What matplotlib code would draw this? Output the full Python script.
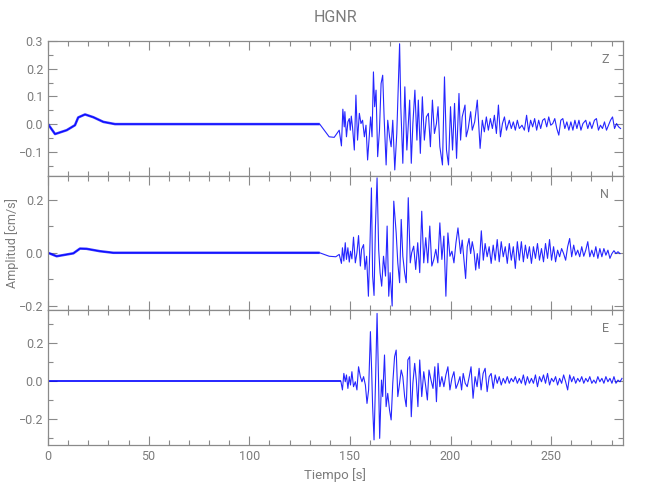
import numpy as np
import matplotlib
matplotlib.use("Agg")
import matplotlib.pyplot as plt
from matplotlib.ticker import MultipleLocator, FuncFormatter

# ---------------- data (time [s], amplitude [cm/s]) ----------------
title = "HGNR"
components = ["Z", "N", "E"]
x_label = "Tiempo [s]"
y_label = "Amplitud [cm/s]"
x_ticks = [0, 50, 100, 150, 200, 250]

# Z component
z_t_pre = [0.0, 3.5, 9.3, 13.4, 15.0, 18.4, 22.5, 27.5, 33.3, 135.0]
z_a_pre = [0.0, -0.036, -0.022, -0.004, 0.024, 0.035, 0.025, 0.008, 0.0, 0.0]
z_t_main = [139.7, 142.2, 144.7, 145.8, 146.5, 147.2, 147.5, 148.3, 149.0, 149.7,
            150.2, 150.7, 151.3, 152.2, 153.0, 153.8, 154.7, 155.5, 156.3, 157.2,
            158.0, 158.8, 159.7, 160.3, 161.0, 161.7, 162.3, 163.0, 163.8, 164.7,
            165.5, 166.3, 167.0, 168.0, 168.8, 169.7, 170.5, 171.3, 172.3, 173.3,
            174.7, 175.3, 176.3, 177.3, 178.3, 179.7, 180.5, 181.3, 182.3, 183.3,
            184.0, 185.0, 186.0, 187.0, 188.0, 189.0, 190.0, 191.0, 192.0, 193.0,
            193.8, 194.7, 196.0, 197.0, 198.0, 199.0, 200.0, 201.0, 202.0, 203.0]
z_a_main = [-0.046, -0.048, -0.022, -0.079, 0.054, -0.010, 0.045, -0.046, 0.008, 0.020,
            -0.022, 0.029, -0.010, -0.094, 0.105, -0.058, 0.039, 0.002, 0.014, -0.046,
            -0.004, -0.130, -0.034, 0.026, -0.046, 0.189, 0.063, 0.123, -0.118, -0.022,
            0.147, 0.177, 0.026, -0.148, 0.014, -0.046, -0.082, 0.014, -0.166, -0.034,
            0.291, 0.063, -0.142, 0.135, -0.094, 0.087, -0.142, 0.002, 0.123, -0.058,
            0.087, -0.106, 0.099, -0.058, 0.026, 0.039, -0.082, 0.087, -0.034, 0.002,
            0.063, -0.082, -0.148, 0.171, -0.094, -0.148, 0.063, -0.094, 0.075, -0.124]
z_t_tail = [204.2, 205.0, 205.8, 207.2, 207.8, 208.8, 210.0, 210.8, 212.0, 213.3,
            214.7, 215.8, 216.8, 217.8, 218.8, 219.8, 220.8, 221.8, 222.8, 223.8,
            224.8, 225.8, 226.8, 227.8, 229.2, 230.2, 231.2, 232.2, 233.2, 234.2,
            235.5, 236.7, 237.8, 238.8, 239.8, 240.8, 241.8, 242.8, 243.8, 244.8,
            245.8, 246.8, 247.8, 248.8, 249.8, 250.8, 251.8, 252.8, 253.8, 254.8,
            255.8, 256.8, 257.8, 258.8, 259.8, 260.8, 261.8, 262.8, 263.8, 264.8,
            265.8, 267.2, 268.2, 269.2, 270.2, 271.5, 272.5, 273.5, 274.5, 275.5,
            276.5, 277.5, 278.5, 279.5, 280.5, 281.5, 282.5, 283.5, 284.5]
z_a_tail = [0.111, -0.058, 0.026, 0.069, -0.046, -0.016, 0.045, -0.022, 0.008, 0.087,
            -0.088, 0.014, -0.028, 0.026, -0.022, 0.020, -0.016, 0.032, -0.034, 0.069,
            -0.046, 0.002, 0.026, -0.022, 0.014, -0.016, 0.008, -0.022, 0.014, -0.016,
            -0.004, -0.022, 0.032, -0.028, 0.014, -0.010, 0.020, -0.022, 0.014, -0.016,
            0.014, 0.020, -0.010, 0.026, -0.004, 0.002, 0.020, -0.016, -0.040, 0.014,
            0.020, -0.016, 0.008, -0.022, 0.008, -0.022, 0.014, -0.016, 0.014, -0.022,
            0.002, 0.014, -0.016, 0.008, -0.016, 0.014, 0.020, -0.022, -0.004, -0.016,
            0.008, -0.022, -0.004, 0.014, 0.026, -0.016, 0.002, -0.010, -0.016]

# N component
n_t_pre = [0.0, 4.3, 12.6, 15.9, 19.2, 25.8, 32.5, 135.0]
n_a_pre = [0.0, -0.013, -0.002, 0.016, 0.015, 0.006, 0.0, 0.0]
n_t_main = [139.7, 143.0, 144.7, 145.8, 146.3, 147.0, 147.7, 148.3, 149.0, 149.7,
            150.3, 151.0, 151.8, 152.7, 153.5, 154.3, 155.2, 155.8, 156.8, 157.5,
            158.3, 159.2, 160.0, 160.7, 161.3, 162.0, 162.7, 163.5, 164.3, 165.0,
            165.8, 166.7, 167.7, 168.5, 169.3, 170.0, 171.0, 171.8, 173.0, 173.8,
            174.7, 175.5, 176.3, 177.2, 178.0, 179.0, 180.0, 180.7, 181.7, 182.7,
            183.7, 184.7, 185.7, 186.7, 187.7, 188.7, 189.7, 190.7, 191.7, 192.7,
            193.7, 194.7, 195.7, 196.7, 197.7, 198.7, 199.7, 200.7, 201.7, 202.7,
            203.7]
n_a_main = [-0.013, -0.015, -0.006, -0.040, 0.019, -0.031, 0.038, -0.025, 0.019, -0.035,
            0.006, -0.023, 0.059, -0.038, 0.000, 0.065, -0.050, 0.013, 0.031, -0.063,
            -0.013, -0.164, 0.038, 0.245, -0.088, -0.161, 0.101, 0.283, 0.013, -0.075,
            -0.126, -0.013, -0.088, 0.101, -0.164, -0.075, -0.201, 0.195, 0.075, -0.038,
            -0.113, 0.126, -0.013, -0.075, -0.113, 0.208, -0.038, 0.000, 0.025, -0.063,
            0.038, -0.075, 0.157, -0.038, 0.057, -0.038, 0.101, -0.050, -0.025, 0.013,
            -0.038, 0.113, -0.025, 0.063, -0.164, 0.075, -0.013, 0.006, -0.038, 0.038,
            0.094]
n_t_tail = [205.0, 205.8, 206.7, 207.5, 208.3, 209.2, 210.0, 210.8, 211.7, 212.5,
            213.3, 214.2, 215.3, 216.3, 217.2, 218.2, 219.2, 220.2, 221.2, 222.2,
            223.2, 224.2, 225.2, 226.2, 227.2, 228.2, 229.2, 230.2, 231.2, 232.2,
            233.2, 234.2, 235.2, 236.2, 237.2, 238.2, 239.2, 240.2, 241.2, 242.2,
            243.2, 244.2, 245.2, 246.2, 247.2, 248.2, 249.2, 250.2, 251.2, 252.2,
            253.2, 254.2, 255.2, 256.2, 257.2, 258.2, 259.2, 260.2, 261.2, 262.2,
            263.2, 264.2, 265.2, 266.2, 267.2, 268.2, 269.2, 270.2, 271.2, 272.2,
            273.2, 274.2, 275.2, 276.2, 277.2, 278.2, 279.2, 280.2, 281.2, 282.2,
            283.2, 284.2]
n_a_tail = [-0.003, 0.048, -0.028, -0.097, 0.023, 0.054, -0.003, 0.042, 0.004, -0.065,
            -0.003, -0.059, 0.083, -0.028, 0.035, -0.015, 0.023, -0.040, 0.029, -0.028,
            0.050, -0.034, 0.042, -0.015, 0.023, -0.040, 0.035, -0.028, 0.023, -0.059,
            0.042, -0.028, 0.042, -0.034, 0.029, -0.021, 0.023, -0.040, 0.023, -0.021,
            0.035, -0.028, 0.016, -0.034, 0.035, -0.021, 0.050, -0.028, 0.023, -0.034,
            0.010, -0.015, 0.016, -0.003, -0.028, 0.023, 0.054, -0.015, 0.029, -0.009,
            0.010, -0.015, 0.023, -0.013, 0.010, 0.042, -0.015, 0.010, -0.015, 0.023,
            -0.021, 0.016, -0.015, 0.016, -0.009, 0.010, -0.021, -0.003, 0.008, -0.003,
            0.004, -0.003]

# E component
e_t_pre = [0.0, 145.5]
e_a_pre = [0.0, 0.0]
e_t_main = [146.3, 147.0, 147.7, 148.3, 149.0, 149.7, 150.3, 151.0, 151.8, 152.7,
            153.5, 154.3, 155.2, 156.0, 156.8, 157.7, 158.5, 159.3, 160.2, 160.8,
            161.3, 162.0, 162.8, 163.5, 164.2, 164.8, 165.7, 166.3, 167.2, 168.0,
            168.8, 169.7, 170.5, 171.3, 172.2, 173.0, 173.8, 174.7, 175.5, 176.3,
            177.2, 178.0, 178.8, 179.7, 180.5, 181.3, 182.2, 183.0, 183.8, 184.7,
            185.7, 186.7, 187.7, 188.5, 189.3, 190.3, 191.3, 192.2, 193.0, 193.8,
            194.7, 195.7, 196.7, 197.7, 198.7, 199.7, 200.7, 201.7, 202.7, 203.7,
            204.7, 205.5, 206.3, 207.3, 208.3, 209.3]
e_a_main = [-0.047, 0.040, -0.004, 0.032, -0.039, 0.023, -0.021, 0.049, -0.030, -0.004,
            -0.047, 0.075, 0.023, -0.004, 0.023, -0.021, -0.118, -0.047, 0.260, 0.058,
            -0.135, -0.310, 0.023, 0.356, 0.023, -0.302, 0.005, -0.082, 0.137, -0.135,
            -0.065, -0.153, -0.205, -0.012, 0.128, 0.163, -0.082, -0.012, 0.058, 0.023,
            -0.082, -0.135, 0.111, 0.128, -0.188, -0.012, 0.093, 0.005, -0.135, 0.111,
            -0.082, 0.049, -0.030, -0.100, 0.058, 0.005, -0.039, 0.075, -0.109, 0.093,
            -0.030, 0.023, -0.030, 0.032, 0.075, -0.047, 0.014, 0.049, -0.039, -0.012,
            0.023, -0.047, 0.040, -0.012, -0.030, 0.023]
e_t_tail = [210.2, 211.2, 212.2, 213.2, 214.2, 215.2, 216.2, 217.2, 218.2, 219.2,
            220.2, 221.2, 222.2, 223.2, 224.2, 225.2, 226.2, 227.2, 228.2, 229.2,
            230.2, 231.2, 232.2, 233.2, 234.2, 235.2, 236.2, 237.2, 238.2, 239.2,
            240.2, 241.2, 242.2, 243.2, 244.2, 245.2, 246.2, 247.2, 248.2, 249.2,
            250.2, 251.2, 252.2, 253.2, 254.2, 255.2, 256.2, 257.2, 258.2, 259.2,
            260.2, 261.2, 262.2, 263.2, 264.2, 265.2, 266.2, 267.2, 268.2, 269.2,
            270.2, 271.2, 272.2, 273.2, 274.2, 275.2, 276.2, 277.2, 278.2, 279.2,
            280.2, 281.2, 282.2, 283.2, 284.2, 285.2]
e_a_tail = [0.075, -0.091, 0.023, -0.030, 0.067, -0.047, 0.040, 0.067, -0.056, 0.023,
            0.040, -0.039, 0.032, -0.012, 0.023, -0.021, 0.014, -0.012, 0.023, -0.012,
            0.014, -0.004, 0.023, -0.012, 0.014, -0.012, 0.032, -0.021, 0.023, -0.012,
            0.014, -0.012, 0.032, -0.030, 0.023, -0.004, 0.032, -0.012, 0.040, -0.021,
            0.014, -0.004, 0.023, -0.021, 0.014, -0.012, 0.032, -0.004, -0.047, 0.032,
            -0.004, 0.023, -0.012, 0.014, -0.004, 0.023, -0.012, 0.014, -0.004, 0.023,
            -0.012, 0.005, -0.012, 0.023, -0.004, 0.014, -0.012, 0.023, -0.004, 0.014,
            -0.012, 0.023, -0.012, 0.005, -0.004, 0.014]

y_limits = [(-0.188, 0.301), (-0.216, 0.29), (-0.337, 0.374)]
y_major = [0.1, 0.2, 0.2]
y_minor = [0.05, 0.1, 0.1]
pre_widths = [1.8, 1.8, 1.3]

# ---------------- figure ----------------
plt.rcParams['font.family'] = ['Roboto', 'DejaVu Sans']
plt.rcParams['font.weight'] = 'normal'
grey = '#8a8a8a'
txt = '#7c7c7c'
line_col = '#0000ff'

fig = plt.figure(figsize=(6.5, 5.0), dpi=100)
W, H = 650.0, 500.0
left, right = 48 / W, 623 / W
panel_px = [(41, 176), (176, 310), (310, 445)]

traces = [
    (z_t_pre, z_a_pre, z_t_main + z_t_tail, z_a_main + z_a_tail),
    (n_t_pre, n_a_pre, n_t_main + n_t_tail, n_a_main + n_a_tail),
    (e_t_pre, e_a_pre, e_t_main + e_t_tail, e_a_main + e_a_tail),
]

fmt = FuncFormatter(lambda v, p: ('%.1f' % v).replace('-', '\u2212') if abs(v) > 1e-9 else '0.0')

axes = []
for i, (top, bot) in enumerate(panel_px):
    ax = fig.add_axes([left, 1 - bot / H, right - left, (bot - top) / H])
    axes.append(ax)
    tp, ap, tm, am = traces[i]
    t_all = np.array(tp + tm)
    a_all = np.array(ap + am)
    ax.plot(t_all, a_all, color=line_col, lw=0.8, alpha=0.85)
    ax.plot(tp, ap, color=line_col, lw=pre_widths[i], alpha=0.75, solid_capstyle='butt')
    ax.set_xlim(0, 285.7)
    ax.set_ylim(*y_limits[i])
    ax.xaxis.set_major_locator(MultipleLocator(50))
    ax.xaxis.set_minor_locator(MultipleLocator(10))
    ax.yaxis.set_major_locator(MultipleLocator(y_major[i]))
    ax.yaxis.set_minor_locator(MultipleLocator(y_minor[i]))
    ax.yaxis.set_major_formatter(fmt)
    ax.tick_params(which='both', direction='in', top=True, right=True,
                   color=grey, labelcolor=txt, labelsize=9, width=0.8)
    ax.tick_params(which='major', length=6.5)
    ax.tick_params(which='minor', length=3.5)
    for s in ax.spines.values():
        s.set_color(grey)
        s.set_linewidth(0.9)
    ax.text(0.975, 0.86, components[i], transform=ax.transAxes, ha='right',
            va='center', color=txt, fontsize=9)
    if i < 2:
        ax.tick_params(labelbottom=False)

axes[2].set_xticks(x_ticks)
axes[2].set_xticklabels([str(v) for v in x_ticks])
axes[2].set_xlabel(x_label, color=txt, fontsize=9.5, labelpad=4)

fig.text((48 + 623) / 2 / W, 1 - 18 / H, title, ha='center', va='center',
         color=txt, fontsize=11.5)
fig.text(12 / W, 1 - 243 / H, y_label, rotation=90, ha='center', va='center',
         color=txt, fontsize=9)

fig.savefig('out.png', dpi=100)
